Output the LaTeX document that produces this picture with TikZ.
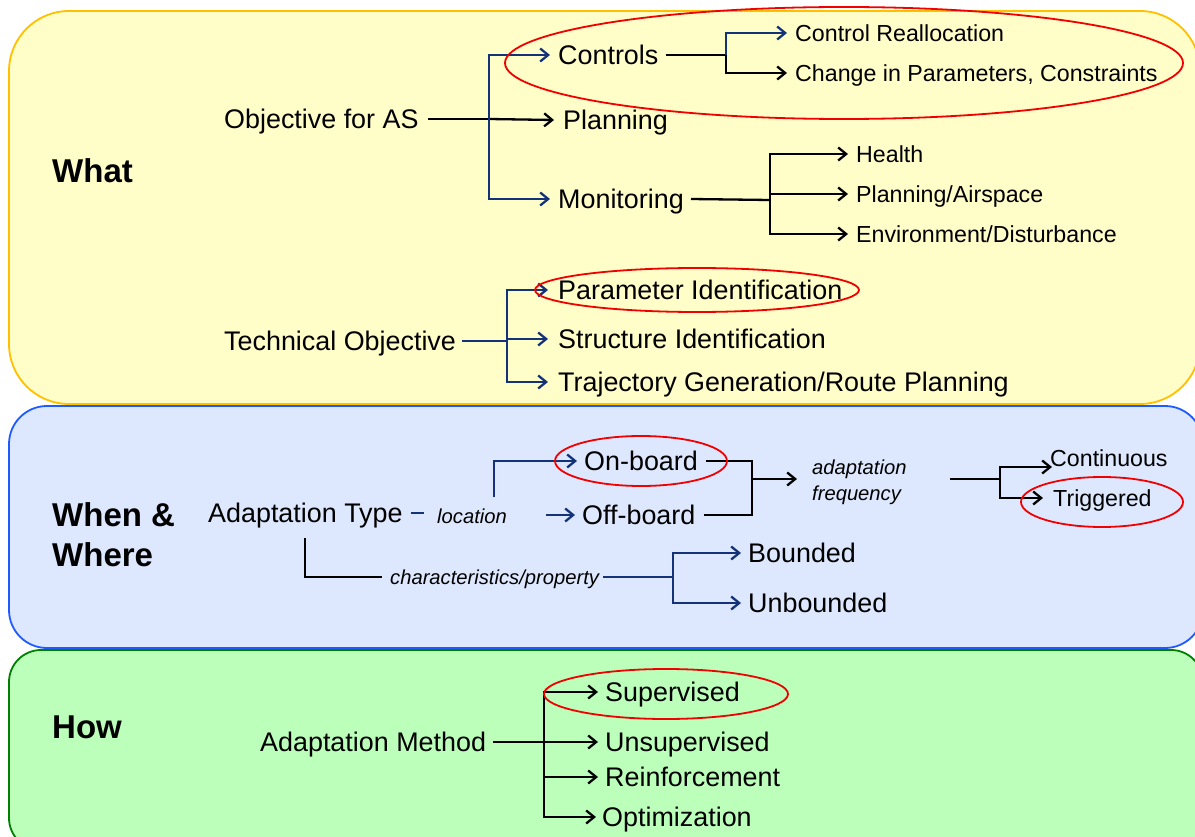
\documentclass[tikz,border=0pt]{standalone}
\usepackage{fontspec}
\setmainfont{Liberation Sans}
\usetikzlibrary{arrows.meta}
\definecolor{yfill}{RGB}{255,253,200}
\definecolor{ydraw}{RGB}{255,192,0}
\definecolor{bfill}{RGB}{221,232,254}
\definecolor{bdraw}{RGB}{30,90,255}
\definecolor{gfill}{RGB}{187,255,187}
\definecolor{gdraw}{RGB}{0,128,0}
\definecolor{navy}{RGB}{20,50,120}
\definecolor{ered}{RGB}{240,0,0}
\begin{document}
\begin{tikzpicture}[x=1pt,y=-1pt,
 big/.style={anchor=west,inner sep=0pt,font=\fontsize{26.9}{30}\selectfont,text height=19.2pt,text depth=0pt},
 small/.style={anchor=west,inner sep=0pt,font=\fontsize{23.2}{27}\selectfont,text height=16.6pt,text depth=0pt},
 ital/.style={anchor=west,inner sep=0pt,font=\fontsize{20.2}{24}\selectfont\itshape,text height=14.5pt,text depth=0pt},
 head/.style={anchor=west,inner sep=0pt,font=\fontsize{33}{36}\selectfont\bfseries,text height=23.6pt,text depth=0pt},
 conn/.style={line width=2.3pt,black},
 bconn/.style={line width=2.3pt,navy},
 arr/.style={-{Straight Barb[length=8pt,width=13pt]}},
 hl/.style={draw=ered,line width=1.8pt},
 panel/.style={line width=1.8pt}
]
\useasboundingbox (0,0) rectangle (1195,837);
% panels
\draw[panel,fill=yfill,draw=ydraw,rounded corners=60pt] (9,11) rectangle (1200,404);
\draw[panel,fill=bfill,draw=bdraw,rounded corners=38pt] (9,406) rectangle (1203,648);
\draw[panel,fill=gfill,draw=gdraw,rounded corners=32pt] (9,650) rectangle (1203,850);

% ---------- What ----------
\node[head] (what) at (52,171) {What};
\node[big] (obj) at (224,119) {Objective for AS};
\node[big] (controls) at (558,55) {Controls};
\node[big] (planning) at (563,120) {Planning};
\node[big] (monitoring) at (558,199) {Monitoring};
\node[small] (creall) at (795,33) {Control Reallocation};
\node[small] (cparam) at (795,73) {Change in Parameters, Constraints};
\node[small] (health) at (856,154) {Health};
\node[small] (plair) at (856,194) {Planning/Airspace};
\node[small] (env) at (856,234) {Environment/Disturbance};
\node[big] (tech) at (224,341) {Technical Objective};
\node[big] (paramid) at (558,290) {Parameter Identification};
\node[big] (structid) at (558,339) {Structure Identification};
\node[big] (traj) at (558,382) {Trajectory Generation/Route Planning};

\coordinate (jobj) at (489,119);
\draw[conn] ([xshift=9]obj.east) -- (jobj);
\draw[conn,arr] (jobj) -- ([xshift=-9]planning.west);
\draw[bconn,arr] (jobj) |- ([xshift=-8]controls.west);
\draw[bconn,arr] (jobj) |- ([xshift=-8]monitoring.west);

\coordinate (jctl) at (726,55);
\draw[conn] ([xshift=7]controls.east) -- (jctl);
\draw[bconn,arr] (jctl) |- ([xshift=-8]creall.west);
\draw[conn,arr] (jctl) |- ([xshift=-8]cparam.west);

\coordinate (jmon) at (770,200);
\draw[conn] ([xshift=7]monitoring.east) -- (jmon);
\draw[conn,arr] (jmon) |- ([xshift=-8]health.west);
\draw[conn,arr] (jmon) |- ([xshift=-8]plair.west);
\draw[conn,arr] (jmon) |- ([xshift=-8]env.west);

\coordinate (jtech) at (507,341);
\draw[bconn] ([xshift=6]tech.east) -- (jtech);
\draw[bconn,arr] (jtech) |- ([xshift=-10]paramid.west);
\draw[bconn,arr] (jtech) |- ([xshift=-10]structid.west);
\draw[bconn,arr] (jtech) |- ([xshift=-10]traj.west);

\draw[hl] (844,63) ellipse [x radius=339pt,y radius=56pt];
\draw[hl] (697,290) ellipse [x radius=162pt,y radius=22pt];

% ---------- When & Where ----------
\node[head] (when) at (52,515) {When \&};
\node[head] (where) at (52,555) {Where};
\node[big] (atype) at (208,513) {Adaptation Type};
\node[ital] (loc) at (437,516) {location};
\node[big] (onb) at (584,461) {On-board};
\node[big] (offb) at (582,515) {Off-board};
\node[ital] (freq1) at (812,467) {adaptation};
\node[ital] (freq2) at (812,493) {frequency};
\node[small] (cont) at (1050,458) {Continuous};
\node[small] (trig) at (1053,498) {Triggered};
\node[ital] (char) at (390,577) {characteristics/property};
\node[big] (bnd) at (748,553) {Bounded};
\node[big] (unbnd) at (748,603) {Unbounded};

\draw[bconn] ([xshift=8]atype.east) -- ([xshift=21]atype.east);
\coordinate (jloc) at (494,497);
\draw[bconn,arr] (jloc) |- ([xshift=-7]onb.west);
\draw[bconn,arr] ([xshift=-36]offb.west) -- ([xshift=-7]offb.west);

\coordinate (jfreq) at (752,479);
\coordinate (ftip) at (797,479);
\draw[conn] ([xshift=8]onb.east) -| (jfreq);
\draw[conn] ([xshift=8]offb.east) -| (jfreq);
\draw[conn,arr] (jfreq) -- (ftip);

\coordinate (fstart) at (950,479);
\coordinate (jcf) at (1000,479);
\coordinate (conttip) at (1052,467);
\coordinate (trigtip) at (1043,498);
\draw[conn] (fstart) -- (jcf);
\draw[conn,arr] (jcf) |- (conttip);
\draw[conn,arr] (jcf) |- (trigtip);

\coordinate (jchar) at (305,538);
\draw[conn] (jchar) |- ([xshift=-8]char.west);
\coordinate (jbnd) at (673,577);
\draw[bconn] ([xshift=4]char.east) -- (jbnd);
\draw[bconn,arr] (jbnd) |- ([xshift=-7]bnd.west);
\draw[bconn,arr] (jbnd) |- ([xshift=-7]unbnd.west);

\draw[hl] (641,461) ellipse [x radius=86pt,y radius=25pt];
\draw[hl] (1102,502) ellipse [x radius=81pt,y radius=25pt];

% ---------- How ----------
\node[head] (how) at (52,727) {How};
\node[big] (amethod) at (260,742) {Adaptation Method};
\node[big] (sup) at (605,692) {Supervised};
\node[big] (unsup) at (605,742) {Unsupervised};
\node[big] (reinf) at (605,777) {Reinforcement};
\node[big] (optim) at (602,817) {Optimization};

\coordinate (jmeth) at (544,742);
\draw[conn] ([xshift=7]amethod.east) -- (jmeth);
\draw[conn,arr] (jmeth) |- ([xshift=-7]sup.west);
\draw[conn,arr] (jmeth) -- ([xshift=-7]unsup.west);
\draw[conn,arr] (jmeth) |- ([xshift=-7]reinf.west);
\draw[conn,arr] (jmeth) |- ([xshift=-6]optim.west);

\draw[hl] (666,694) ellipse [x radius=122pt,y radius=25pt];
\end{tikzpicture}
\end{document}
